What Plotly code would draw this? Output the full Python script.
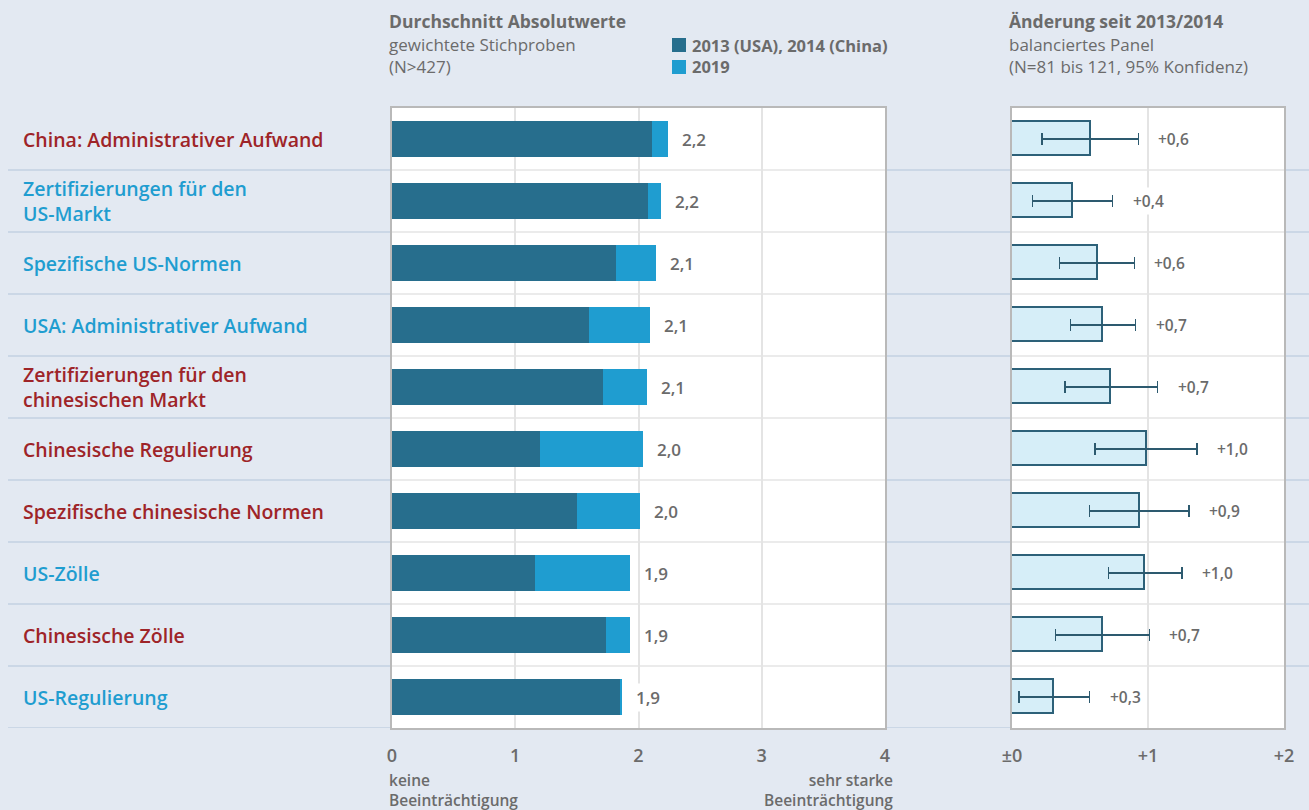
import plotly.graph_objects as go

# ---------------- data ----------------
categories = [
    "China: Administrativer Aufwand",
    "Zertifizierungen für den<br>US-Markt",
    "Spezifische US-Normen",
    "USA: Administrativer Aufwand",
    "Zertifizierungen für den<br>chinesischen Markt",
    "Chinesische Regulierung",
    "Spezifische chinesische Normen",
    "US-Zölle",
    "Chinesische Zölle",
    "US-Regulierung",
]
category_market = ["China", "USA", "USA", "USA", "China", "China", "China", "USA", "China", "USA"]
base_values = [2.11, 2.08, 1.82, 1.60, 1.71, 1.20, 1.50, 1.16, 1.74, 1.85]
total_2019 = [2.24, 2.18, 2.14, 2.09, 2.07, 2.04, 2.01, 1.93, 1.93, 1.87]
total_labels = ["2,2", "2,2", "2,1", "2,1", "2,1", "2,0", "2,0", "1,9", "1,9", "1,9"]
change = [0.58, 0.45, 0.63, 0.67, 0.73, 0.99, 0.94, 0.98, 0.67, 0.31]
ci_low = [0.22, 0.15, 0.35, 0.43, 0.39, 0.61, 0.57, 0.71, 0.32, 0.05]
ci_high = [0.93, 0.74, 0.90, 0.91, 1.07, 1.36, 1.30, 1.25, 1.01, 0.57]
change_labels = ["+0,6", "+0,4", "+0,6", "+0,7", "+0,7", "+1,0", "+0,9", "+1,0", "+0,7", "+0,3"]
left_ticks = [0, 1, 2, 3, 4]
left_ticktext = ["0", "1", "2", "3", "4"]
right_ticks = [0, 1, 2]
right_ticktext = ["±0", "+1", "+2"]
legend_names = ["2013 (USA), 2014 (China)", "2019"]

# ---------------- style ----------------
W, H = 1309, 810
MT, MB = 108, 82
FONT = "Open Sans"
GRAY = "#6b6b6b"
BG = "#e3e9f2"
DARK = "#276e8d"
LIGHT = "#1f9dd0"
RED = "#9e2428"
BLUE = "#1f9dd0"
SEP = "#cbd7e6"
GRID = "#e4e4e4"
BOX = "#b9b9b9"

def px(x):
    return x / W

def py(y):
    # pixel y (from top) -> paper y
    return (H - MB - y) / (H - MT - MB)

n = len(categories)
ypos = list(range(n))
increment = [t - b for t, b in zip(total_2019, base_values)]

fig = go.Figure()
fig.add_trace(go.Bar(
    y=ypos, x=base_values, orientation="h", marker_color=DARK, width=0.58,
    name=legend_names[0], xaxis="x", yaxis="y", showlegend=False,
    marker_line_width=0, hoverinfo="skip"))
fig.add_trace(go.Bar(
    y=ypos, x=increment, orientation="h", marker_color=LIGHT, width=0.58,
    name=legend_names[1], xaxis="x", yaxis="y", showlegend=False,
    marker_line_width=0, hoverinfo="skip"))
fig.add_trace(go.Bar(
    y=ypos, x=change, orientation="h", width=0.55,
    marker=dict(color="#d6eef8", line=dict(color="#2d6179", width=1.6)),
    error_x=dict(type="data", symmetric=False,
                 array=[h - c for h, c in zip(ci_high, change)],
                 arrayminus=[c - l for c, l in zip(change, ci_low)],
                 color="#2d5a6f", thickness=1.4, width=6),
    xaxis="x2", yaxis="y2", showlegend=False, hoverinfo="skip"))

annotations = []
shapes = []

# category labels
for i, (cat, mk) in enumerate(zip(categories, category_market)):
    annotations.append(dict(
        x=px(24), xref="paper", y=i, yref="y", text=cat, showarrow=False,
        xanchor="left", yanchor="middle", align="left", xshift=-3,
        font=dict(family=FONT, size=19.5, color=RED if mk == "China" else BLUE, weight=600)))

# value labels left
for i, (t, lab) in enumerate(zip(total_2019, total_labels)):
    annotations.append(dict(
        x=t, xref="x", y=i, yref="y", text=lab, showarrow=False, xanchor="left",
        xshift=11, font=dict(family=FONT, size=17, color=GRAY, weight=600),
        bgcolor="white", borderpad=2))

# value labels right
for i, (h, lab) in enumerate(zip(ci_high, change_labels)):
    annotations.append(dict(
        x=h, xref="x2", y=i, yref="y2", text=lab, showarrow=False, xanchor="left",
        xshift=17, font=dict(family=FONT, size=15.5, color=GRAY, weight=600),
        bgcolor="white", borderpad=2))

# headers
def header(x, y, text, bold=False, anchor="left", size=17.5):
    annotations.append(dict(
        x=px(x), xref="paper", y=py(y), yref="paper", text=text, showarrow=False,
        xanchor=anchor, yanchor="middle", align=anchor, xshift=-3,
        font=dict(family=FONT, size=size, color=GRAY, weight=700 if bold else 400)))

header(390, 21, "Durchschnitt Absolutwerte", bold=True)
header(390, 55, "gewichtete Stichproben<br>(N>427)", size=17)
header(1010, 21, "Änderung seit 2013/2014", bold=True)
header(1010, 55, "balanciertes Panel<br>(N=81 bis 121, 95% Konfidenz)", size=17)

# legend
for k, (name, col, yy) in enumerate(zip(legend_names, [DARK, LIGHT], [45, 67])):
    shapes.append(dict(type="rect", xref="paper", yref="paper",
                       x0=px(672), x1=px(686), y0=py(yy - 7), y1=py(yy + 7),
                       fillcolor=col, line_width=0))
    annotations.append(dict(
        x=px(690), xref="paper", y=py(yy), yref="paper", text=name, showarrow=False,
        xanchor="left", yanchor="middle",
        font=dict(family=FONT, size=16.5, color=GRAY, weight=700)))

# axis end captions
for txt, xx, anc in [("keine<br>Beeinträchtigung", 390, "left"),
                     ("sehr starke<br>Beeinträchtigung", 892, "right")]:
    annotations.append(dict(x=px(xx), xref="paper", y=py(789.5), yref="paper",
                            text=txt, showarrow=False, xshift=-3 if anc == "left" else 3,
                            xanchor=anc, yanchor="middle", align=anc,
                            font=dict(family=FONT, size=15.5, color=GRAY, weight=600)))

# background row separators (outside the panels)
for k in range(1, n + 1):
    yb = k - 0.5
    for (a, b) in [(8, 392), (885, 1012), (1284, 1309)]:
        if k == n and a == 1284:
            continue
        shapes.append(dict(type="line", xref="paper", yref="y", x0=px(a), x1=px(b),
                           y0=yb, y1=yb, line=dict(color=SEP, width=2), layer="below"))

# inner row separators
for k in range(1, n):
    for xr, yr in [("x domain", "y"), ("x2 domain", "y2")]:
        shapes.append(dict(type="line", xref=xr, yref=yr, x0=0, x1=1, y0=k - 0.5, y1=k - 0.5,
                           line=dict(color=GRID, width=1.5), layer="below"))

tickfont = dict(family=FONT, size=18, color=GRAY, weight=600)
fig.update_layout(
    width=W, height=H,
    margin=dict(l=0, r=0, t=MT, b=MB, autoexpand=False),
    paper_bgcolor=BG, plot_bgcolor="white",
    barmode="stack", bargap=0,
    showlegend=False,
    xaxis=dict(domain=[px(392), px(885)], range=[0, 4], tickvals=left_ticks,
               ticktext=left_ticktext, showgrid=True, gridcolor=GRID, gridwidth=1.5,
               zeroline=False, showline=True, mirror=True, linecolor=BOX, linewidth=2,
               ticks="outside", ticklen=10, tickcolor="rgba(0,0,0,0)", tickfont=tickfont,
               automargin=False, fixedrange=True),
    yaxis=dict(domain=[0, 1], range=[n - 0.5, -0.5], showticklabels=False, showgrid=False,
               zeroline=False, showline=True, mirror=True, linecolor=BOX, linewidth=2,
               anchor="x", automargin=False),
    xaxis2=dict(domain=[px(1012), px(1284)], range=[0, 2], tickvals=right_ticks,
                ticktext=right_ticktext, showgrid=True, gridcolor=GRID, gridwidth=1.5,
                zeroline=False, showline=True, mirror=True, linecolor=BOX, linewidth=2,
                ticks="outside", ticklen=10, tickcolor="rgba(0,0,0,0)", tickfont=tickfont,
                anchor="y2", automargin=False),
    yaxis2=dict(domain=[0, 1], range=[n - 0.5, -0.5], showticklabels=False, showgrid=False,
                zeroline=False, showline=True, mirror=True, linecolor=BOX, linewidth=2,
                anchor="x2", automargin=False),
    annotations=annotations,
    shapes=shapes,
)

fig.write_html("out.html", config={"displayModeBar": False},
               post_script="document.body.style.margin='0';document.body.style.overflow='hidden';")
